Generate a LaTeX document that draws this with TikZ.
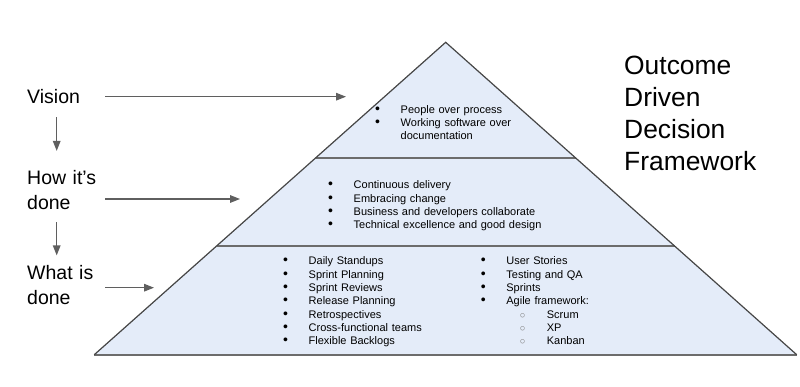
\documentclass[tikz,border=0pt]{standalone}
\usepackage{fontspec}
\setmainfont{Liberation Sans}
\usepackage{xcolor}
\usetikzlibrary{arrows.meta,calc}

\definecolor{pyrfill}{RGB}{228,236,249}
\definecolor{pyredge}{RGB}{70,70,70}
\definecolor{arrgray}{RGB}{95,95,95}

\newcommand{\blt}[1]{\makebox[25.5pt][l]{\fontsize{14}{13.33}\selectfont\textbullet}#1}
\newcommand{\sblt}[1]{\hspace{39pt}\makebox[27pt][l]{\textcolor{gray}{$\circ$}}#1}

\begin{document}
\begin{tikzpicture}[x=1pt, y=-1pt,
        lvl/.style={anchor=base west, inner sep=0pt, text width=78pt, align=left, font=\fontsize{19.5}{25}\selectfont},
        headline/.style={anchor=base west, inner sep=0pt, text width=170pt, align=left, font=\fontsize{26.4}{31.7}\selectfont},
        blist/.style={anchor=base west, inner sep=0pt, text width=240pt, align=left, font=\fontsize{11}{13.33}\selectfont},
        arr/.style={-{Triangle[length=10pt,width=7.5pt]}, line width=1.4pt, arrgray},
        band/.style={line width=1.8pt, gray!85!black},
    ]
        \useasboundingbox (0,0) rectangle (800,387);

        % Pyramid
        \coordinate (top) at (445.7,42.3);
        \coordinate (bl) at (94.3,354.7);
        \coordinate (br) at (796.7,354.7);
        \fill[pyrfill] (top) -- (bl) -- (br) -- cycle;
        \draw[band] ($(top)!0.3704!(bl)$) -- ($(top)!0.3704!(br)$);
        \draw[band] ($(top)!0.652!(bl)$) -- ($(top)!0.652!(br)$);
        \draw[band] (bl) -- (br);
        \draw[pyredge, line width=1.2pt] (bl) -- (top) -- (br);

        % Contents of the levels
        \node[blist] (whylist) at (375,113.3) {\blt{People over process}\\\blt{Working software over}\\\hspace{25.5pt}documentation};
        \node[blist] (howlist) at (328,189) {\blt{Continuous delivery}\\\blt{Embracing change}\\\blt{Business and developers collaborate}\\\blt{Technical excellence and good design}};
        \node[blist] (whatlist) at (283,265) {\blt{Daily Standups}\\\blt{Sprint Planning}\\\blt{Sprint Reviews}\\\blt{Release Planning}\\\blt{Retrospectives}\\\blt{Cross-functional teams}\\\blt{Flexible Backlogs}};
        \node[blist, text width=150pt] (whatlist2) at (480.7,265) {\blt{User Stories}\\\blt{Testing and QA}\\\blt{Sprints}\\\blt{Agile framework:}\\\sblt{Scrum}\\\sblt{XP}\\\sblt{Kanban}};

        % Levels on the left
        \node[lvl] (vision) at (27,104) {Vision};
        \node[lvl] (how) at (27,185) {How it’s\\done};
        \node[lvl] (what) at (27,279.3) {What is\\done};

        % Title
        \node[headline] (odd) at (624,75) {Outcome\\Driven\\Decision\\Framework};

        % Arrows
        \coordinate (vtip) at (346,96.7);
        \coordinate (htip) at (240,199);
        \coordinate (wtip) at (154,287.7);
        \coordinate (col) at (56.7,0);
        \draw[arr] (vision.east |- vtip) -- (vtip);
        \draw[arr] (how.east |- htip) -- (htip);
        \draw[arr] (what.east |- wtip) -- (wtip);
        \draw[arr, shorten <=12.7pt, shorten >=19.7pt] (vision.south -| col) -- (how.north -| col);
        \draw[arr, shorten <=11.7pt, shorten >=9.5pt] (how.south -| col) -- (what.north -| col);
    \end{tikzpicture}
\end{document}
